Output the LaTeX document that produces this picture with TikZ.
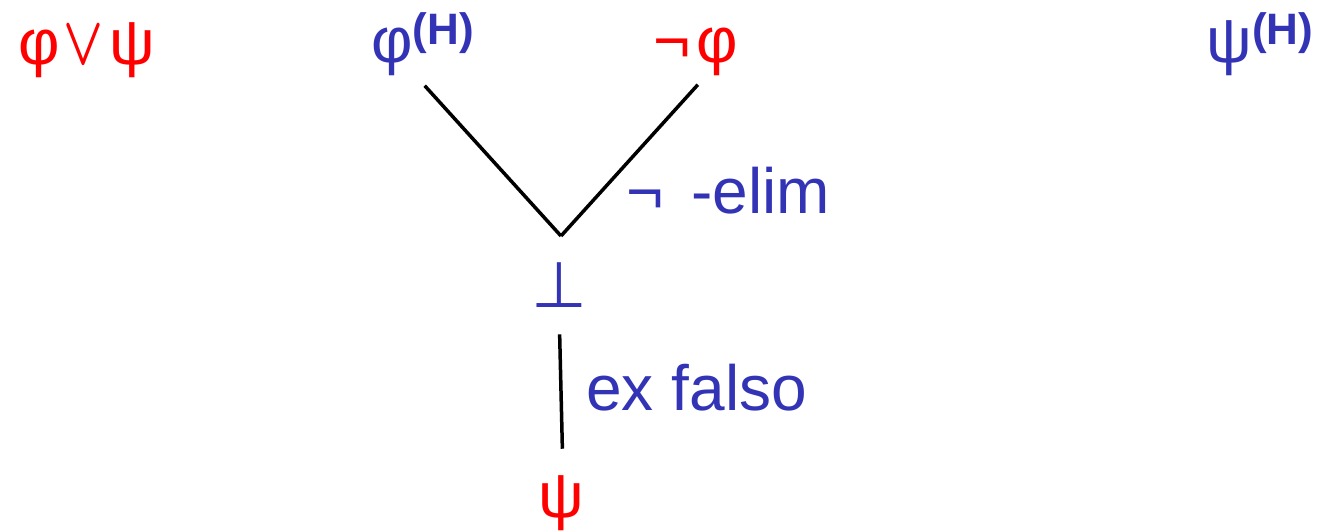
\documentclass[tikz,border=0pt]{standalone}
\usepackage{fontspec}
\setmainfont{Liberation Sans}
\newfontfamily\symfont{DejaVu Sans}
\usepackage{graphicx}
\usepackage{xcolor}
\usetikzlibrary{positioning}
\definecolor{fblue}{RGB}{51,51,181}
\definecolor{fred}{RGB}{255,0,0}
\newcommand{\hyp}{\raisebox{9pt}{\fontsize{22}{22}\selectfont\bfseries(H)}}
\newcommand{\orsym}{\resizebox{20pt}{19pt}{\boldmath$\vee$}}

\begin{document}
\begin{tikzpicture}[x=0.5pt, y=-0.5pt,
    fml/.style={inner sep=0pt, anchor=base west, font=\fontsize{32}{38}\selectfont},
    rule/.style={line width=1.75pt, black}]
    \useasboundingbox (0,0) rectangle (1317,531);

    % Top line of formulas
    \node[fml, fred] (disj) at (18,64) {φ\kern2pt\orsym\kern3pt ψ};
    \node[fml, fblue] (phiH) at (371,62) {φ\hyp};
    \node[fml, fred] (negphi) at (653,62) {¬\kern3pt φ};
    \node[fml, fblue] (psiH) at (1206,62) {ψ\hyp};

    % Meeting point
    \coordinate (meet) at (561,236);

    % Falsum and conclusion
    \node[fml, fblue, anchor=base] (bot) at (559,307) {{\symfont ⊥}};
    \node[fml, fred, anchor=base] (psi) at (561,517) {ψ};

    % Rule labels
    \node[fml, fblue] (elim) at (626,213) {¬\kern5pt\ -elim};
    \node[fml, fblue] (exfalso) at (586,410) {ex falso};

    % Connections
    \draw[rule] ([xshift=1pt, yshift=-5pt]phiH.south) -- (meet);
    \draw[rule] ([xshift=1pt, yshift=-4.5pt]negphi.south) -- (meet);
    \draw[rule, shorten <=13.5pt, shorten >=13pt] (bot.south) -- ([xshift=1pt]psi.north);
\end{tikzpicture}
\end{document}
